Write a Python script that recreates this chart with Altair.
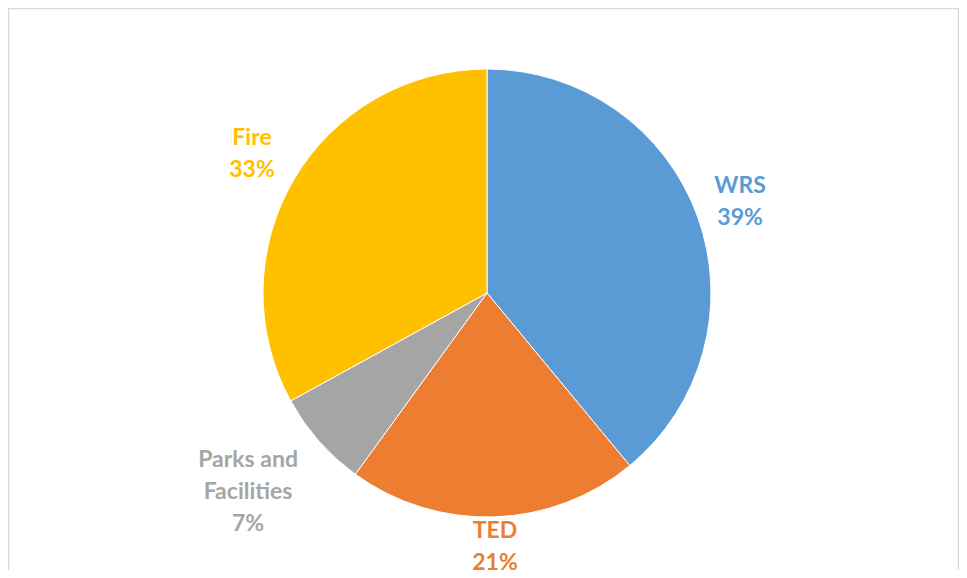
import altair as alt
import pandas as pd

categories = ["WRS", "TED", "Parks and Facilities", "Fire"]
label_lines = ["WRS\n39%", "TED\n21%", "Parks and\nFacilities\n7%", "Fire\n33%"]
shares = [39, 21, 7, 33]
colors = ["#5B9BD5", "#ED7D31", "#A5A5A5", "#FFC000"]

df = pd.DataFrame({
    "category": categories,
    "label": label_lines,
    "share": shares,
    "order": list(range(len(categories))),
})

W, H = 951, 562
cx, cy, R = 479, 285, 224
LH = 32

# layout (not data): label distance from centre and small angular nudge per category
label_radius_expr = ("datum.category == 'WRS' ? 269 : datum.category == 'TED' ? 254 : "
                     "datum.category == 'Fire' ? 273 : 311")
label_nudge_expr = "datum.category == 'Parks and Facilities' ? 1.6 * PI / 180 : 0"

color_enc = alt.Color("category:N", scale=alt.Scale(domain=categories, range=colors), legend=None)

pie = alt.Chart(df).mark_arc(outerRadius=R, stroke="white", strokeWidth=1).encode(
    theta=alt.Theta("share:Q", stack=True),
    order=alt.Order("order:Q"),
    color=color_enc,
    x=alt.value(cx), y=alt.value(cy),
)

labels = alt.Chart(df).transform_window(
    cum="sum(share)", sort=[alt.SortField("order")]
).transform_joinaggregate(
    total="sum(share)"
).transform_calculate(
    mid="(datum.cum - datum.share / 2) / datum.total * 2 * PI",
    lr=label_radius_expr,
    nudge=label_nudge_expr,
    nl="length(split(datum.label, '\\n'))",
).transform_calculate(
    lx=f"{cx} + datum.lr * sin(datum.mid + datum.nudge)",
    ly=f"{cy} - datum.lr * cos(datum.mid + datum.nudge) - (datum.nl - 1) * {LH} / 2",
).mark_text(
    font="Lato", fontSize=23, fontWeight="bold", lineBreak="\n", lineHeight=LH,
    align="center", baseline="middle"
).encode(
    x=alt.X("lx:Q", scale=None),
    y=alt.Y("ly:Q", scale=None),
    color=color_enc,
    text="label:N",
)

rule_style = dict(color="#d9d9d9", strokeWidth=1.5)
one = pd.DataFrame({"k": [0]})
border_t = alt.Chart(one).mark_rule(**rule_style).encode(
    x=alt.value(0), x2=alt.value(W - 0.5), y=alt.value(0.5)
)
border_l = alt.Chart(one).mark_rule(**rule_style).encode(
    x=alt.value(0.5), y=alt.value(0), y2=alt.value(H)
)
border_r = alt.Chart(one).mark_rule(**rule_style).encode(
    x=alt.value(W - 0.5), y=alt.value(0), y2=alt.value(H)
)

chart = alt.layer(border_t, border_l, border_r, pie, labels).properties(
    width=W, height=H, autosize=alt.AutoSizeParams(type="none"), padding=0
).configure_view(stroke=None).configure(background="white")

chart.save("out.html", embed_options={"renderer": "svg", "actions": False})
